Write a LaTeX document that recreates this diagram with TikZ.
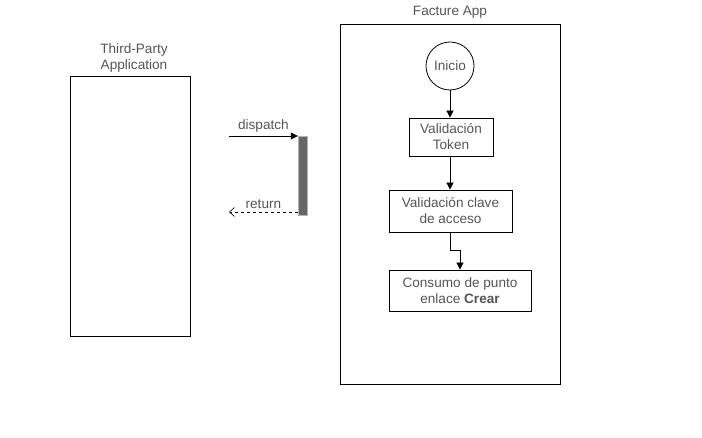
\documentclass[tikz,border=0pt]{standalone}
\usepackage{fontspec}
\setmainfont{Liberation Sans}
\usetikzlibrary{positioning,arrows.meta}
\definecolor{txtgray}{HTML}{555555}
\definecolor{bargray}{HTML}{666666}

\begin{document}
\begin{tikzpicture}[
		x=1pt, y=-1pt,
		font=\fontsize{13.6}{16}\selectfont,
		ar/.style={-{Triangle[length=7pt,width=7pt]}, line width=0.8pt},
		ret/.style={-{Straight Barb[length=5pt,width=9pt]}, dashed, line width=0.6pt},
		lbl/.style={text=txtgray, align=center, inner sep=0pt},
		mynode/.style={draw, line width=0.8pt, text=txtgray, align=center, inner sep=0pt},
		frame/.style={draw, line width=0.8pt}
	]
		\useasboundingbox (0,0) rectangle (702,438);
		% third party side
		\node[frame, minimum width=120pt, minimum height=260pt] (app) at (130,206) {};
		\node[lbl] at (134,58) {Third-Party\\Application};
		\node[fill=bargray, draw=gray!60, minimum width=9pt, minimum height=79pt, inner sep=0pt] (bar) at (302.5,175.5) {};
		\coordinate (dsrc) at (229,136);
		\coordinate (rdst) at (229,212);
		\draw[ar] (dsrc) -- (dsrc -| bar.west) node[lbl, midway, above=3pt] {dispatch};
		\draw[ret] (rdst -| bar.west) -- (rdst) node[lbl, midway, above=3pt] {return};
		% facture app
		\node[frame, minimum width=220pt, minimum height=360pt] (facture) at (450,204) {};
		\node[lbl, above=5pt of facture.north] {Facture App};
		\node[mynode, circle, minimum size=48pt] (inicio) at (450,66) {Inicio};
		\node[mynode, minimum width=84pt, minimum height=38pt] (token) at (451,137) {Validación\\Token};
		\node[mynode, minimum width=123pt, minimum height=42pt] (clave) at (450.5,211) {Validación clave\\de acceso};
		\node[mynode, minimum width=142pt, minimum height=41pt] (consumo) at (460,290.5) {Consumo de punto\\enlace \textbf{Crear}};
		\draw[ar] (inicio) -- (inicio |- token.north);
		\draw[ar] (inicio |- token.south) -- (inicio |- clave.north);
		\draw[ar] (inicio |- clave.south) -- ++(0,18) -| (consumo.north);
	\end{tikzpicture}
\end{document}
